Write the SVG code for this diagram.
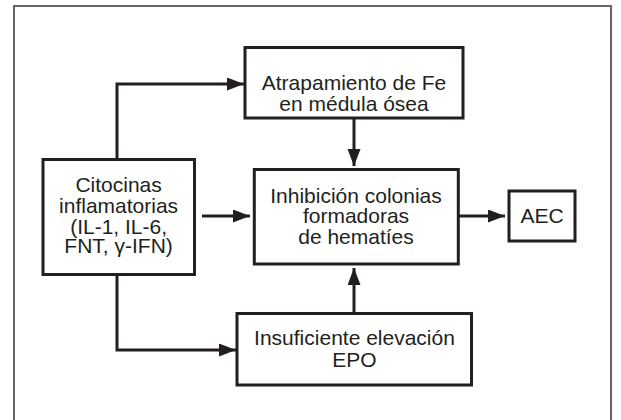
<svg xmlns="http://www.w3.org/2000/svg" width="621" height="420" viewBox="0 0 621 420">
<style>
.box{fill:#fff;stroke:#231f20;stroke-width:3}
.t{font-family:"Liberation Sans",Arial,sans-serif;font-size:21px;fill:#231f20;text-anchor:middle}
.c{fill:none;stroke:#231f20;stroke-width:3;marker-end:url(#ah)}
</style>
<defs>
<marker id="ah" markerUnits="userSpaceOnUse" markerWidth="18" markerHeight="14" refX="17" refY="6.5" orient="auto">
<path d="M0,0 L17,6.5 L0,13 z" fill="#231f20"/>
</marker>
</defs>
<rect x="0" y="0" width="621" height="420" fill="#fff"/>
<rect x="14" y="6" width="597" height="430" fill="none" stroke="#666" stroke-width="2"/>
<g id="connectors">
<path class="c" d="M117,159 V84 H244"/>
<path class="c" d="M117,274 V350 H236"/>
<path class="c" d="M354,118 V166"/>
<path class="c" d="M354,313 V268"/>
<path class="c" d="M202,216 H250"/>
<path class="c" d="M458,216 H505"/>
</g>
<g id="atrapamiento">
<rect class="box" x="245" y="47.5" width="218" height="70.5"/>
<text class="t" x="354" y="89.5">Atrapamiento de Fe</text>
<text class="t" x="354" y="111">en médula ósea</text>
</g>
<g id="citocinas">
<rect class="box" x="43" y="159.5" width="151.5" height="115"/>
<text class="t" x="118.6" y="192">Citocinas</text>
<text class="t" x="118.6" y="213">inflamatorias</text>
<text class="t" x="118.6" y="233.5">(IL-1, IL-6,</text>
<text class="t" x="118.6" y="253">FNT, γ-IFN)</text>
</g>
<g id="inhibicion">
<rect class="box" x="254.3" y="169.5" width="204" height="94.5"/>
<text class="t" x="356" y="202.7">Inhibición colonias</text>
<text class="t" x="356" y="223.3">formadoras</text>
<text class="t" x="356" y="243.5">de hematíes</text>
</g>
<g id="aec">
<rect class="box" x="509" y="191" width="66" height="50"/>
<text class="t" x="542" y="223.3">AEC</text>
</g>
<g id="insuficiente">
<rect class="box" x="237" y="313.5" width="234.5" height="71.5"/>
<text class="t" x="354.5" y="345">Insuficiente elevación</text>
<text class="t" x="354.5" y="366.7">EPO</text>
</g>
</svg>
